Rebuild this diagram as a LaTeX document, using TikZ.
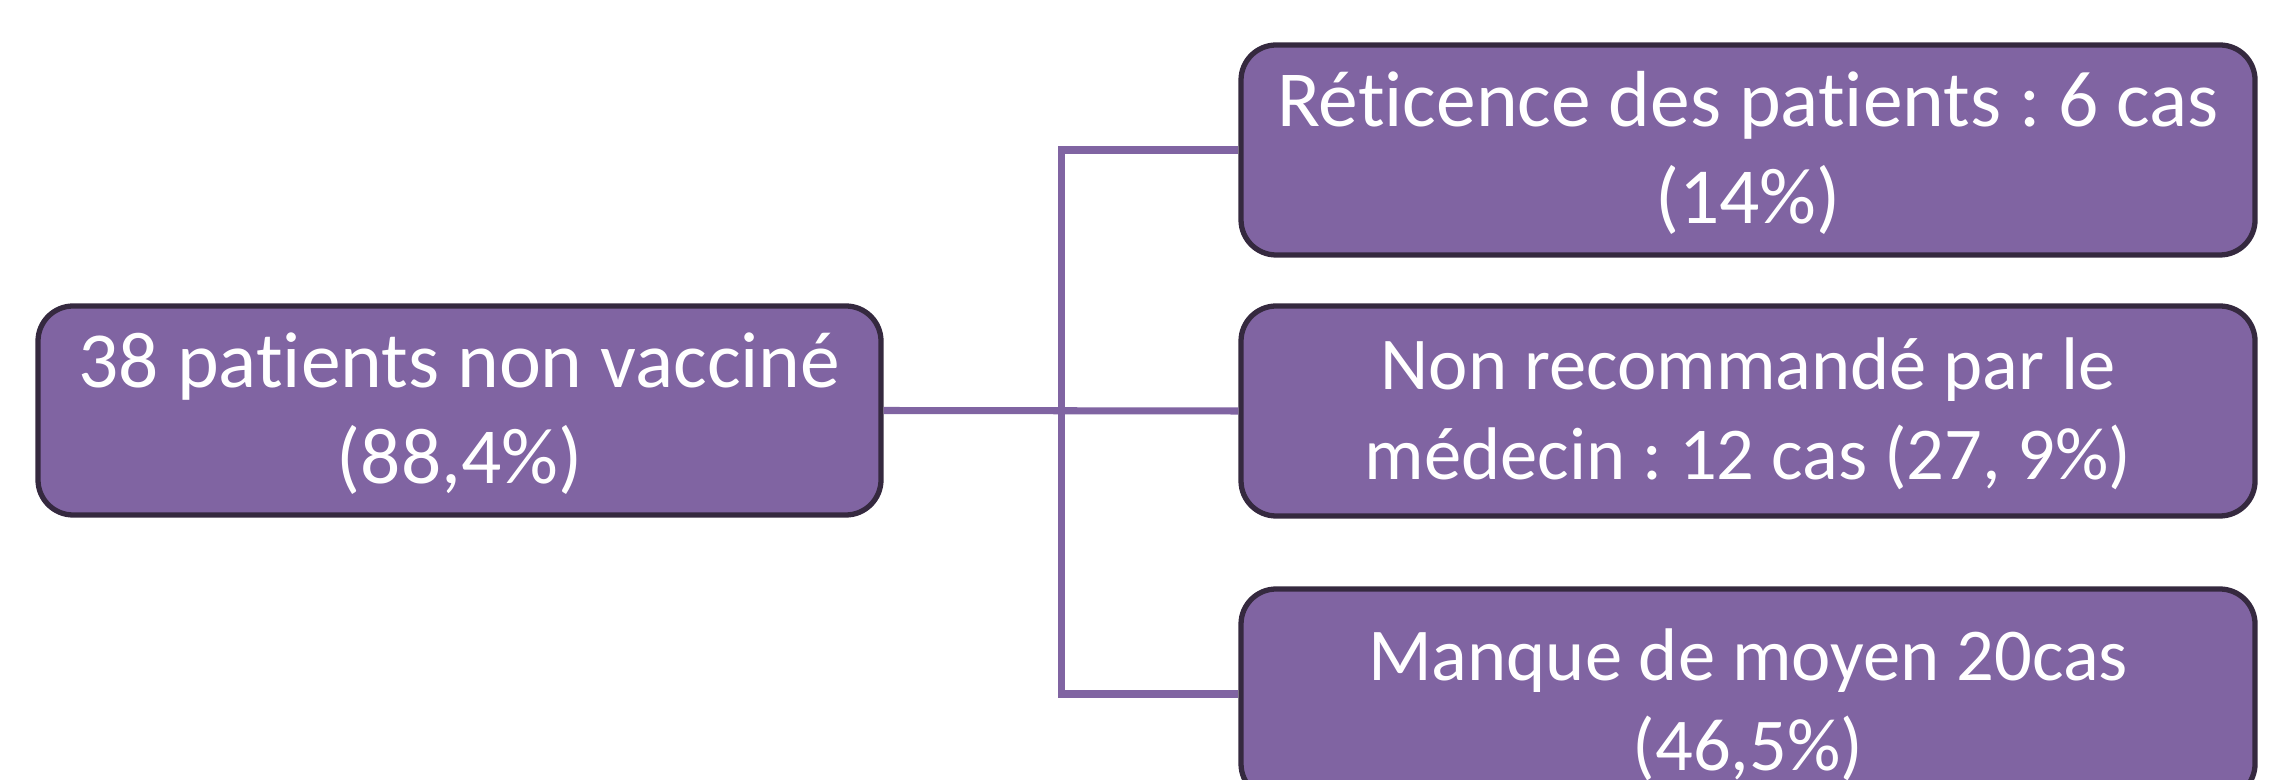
\documentclass[tikz,border=0pt]{standalone}
\usepackage{fontspec}
\setmainfont[Ligatures={NoCommon,NoRequired,NoContextual}]{Carlito}
\frenchspacing
\definecolor{boxfill}{HTML}{8064A2}
\definecolor{boxline}{HTML}{35293F}
\begin{document}
\begin{tikzpicture}[x=0.01cm,y=-0.01cm,
  box/.style={draw=boxline, line width=1.5pt, fill=boxfill, rounded corners=10pt,
    text=white, align=center, inner sep=0pt, text depth=0pt},
  bigtext/.style={text height=41.7pt, font=\fontsize{22.6}{27.5}\selectfont},
  smalltext/.style={text height=38.9pt, font=\fontsize{21.2}{25.6}\selectfont},
  link/.style={draw=boxfill, line width=2pt}]
\useasboundingbox (0,0) rectangle (2286,780);
\node[box, bigtext, minimum width=843*0.01cm, minimum height=209*0.01cm] (root) at (459.5,410.5)
  {38 patients non vacciné\\(88,4\%)};
\node[box, bigtext, minimum width=1014*0.01cm, minimum height=210*0.01cm] (top) at (1748,150)
  {Réticence des patients : 6 cas\\(14\%)};
\node[box, smalltext, minimum width=1014*0.01cm, minimum height=210*0.01cm] (mid) at (1748,411)
  {Non recommandé par le\\médecin : 12 cas (27, 9\%)};
\node[box, smalltext, text height=43.5pt, minimum width=1014*0.01cm, minimum height=210*0.01cm] (bot) at (1748,694)
  {Manque de moyen 20cas\\(46,5\%)};
\coordinate (jt) at (1061,150);
\coordinate (jb) at (1061,694);
\draw[link] (root.east) -- (mid.west);
\draw[link] (top.west) -- (jt) -- (jb) -- (bot.west);
\end{tikzpicture}
\end{document}
